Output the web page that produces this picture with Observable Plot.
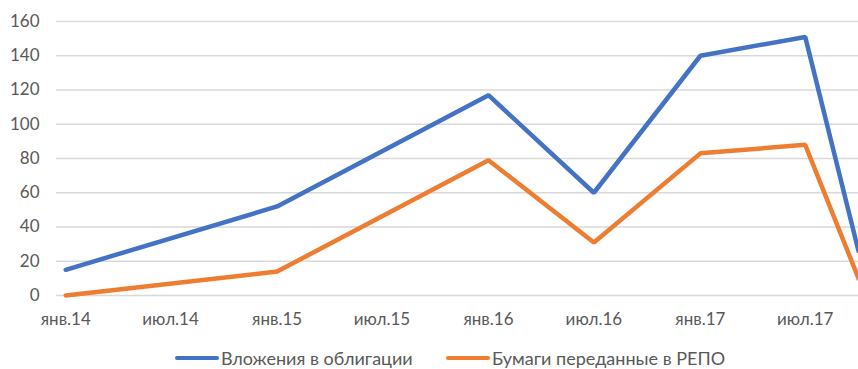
<!DOCTYPE html>
<html>
<head>
<meta charset="utf-8">
<script src="https://cdn.jsdelivr.net/npm/d3@7"></script>
<script src="https://cdn.jsdelivr.net/npm/@observablehq/plot@0.6"></script>
<style>
  html, body { margin: 0; padding: 0; background: #fff; }
  #wrap { position: relative; width: 858px; height: 369px; overflow: hidden; font-family: Lato, "Open Sans", sans-serif; }
  #chart svg { display: block; }
  .leg { position: absolute; top: 349px; display: flex; align-items: center; font-size: 18px; color: #595959; white-space: nowrap; line-height: 18px; }
  .sw { display: inline-block; width: 44px; height: 4px; border-radius: 2px; margin-right: 2px; }
</style>
</head>
<body>
<div id="wrap">
  <div id="chart"></div>
  <div class="leg" style="left:175px"><span class="sw" style="background:#4472C4"></span><span id="l1"></span></div>
  <div class="leg" style="left:446px"><span class="sw" style="background:#ED7D31"></span><span id="l2"></span></div>
</div>
<script>
// Data
const dates = ["2014-01-01", "2015-01-01", "2016-01-01", "2016-07-01", "2017-01-01", "2017-07-01", "2017-10-01"];
const bonds = [15, 52, 117, 60, 140, 151, 26];
const repo = [0, 14, 79, 31, 83, 88, 10];
const seriesNames = ["Вложения в облигации", "Бумаги переданные в РЕПО"];
const seriesColors = ["#4472C4", "#ED7D31"];
const xTickDates = ["2014-01-01", "2014-07-01", "2015-01-01", "2015-07-01", "2016-01-01", "2016-07-01", "2017-01-01", "2017-07-01"];
const xTickLabels = ["янв.14", "июл.14", "янв.15", "июл.15", "янв.16", "июл.16", "янв.17", "июл.17"];
const yTicks = [0, 20, 40, 60, 80, 100, 120, 140, 160];

const rows = [];
dates.forEach((d, i) => {
  rows.push({date: new Date(d), value: bonds[i], series: seriesNames[0]});
  rows.push({date: new Date(d), value: repo[i], series: seriesNames[1]});
});
const tickDates = xTickDates.map(d => new Date(d));
const labelMap = new Map(tickDates.map((d, i) => [+d, xTickLabels[i]]));

const chart = Plot.plot({
  width: 858,
  height: 340,
  marginLeft: 56,
  marginRight: 0,
  marginTop: 21,
  marginBottom: 45,
  style: {fontFamily: "Lato, 'Open Sans', sans-serif", fontSize: "17px", color: "#595959", background: "#fff"},
  x: {type: "utc", domain: [new Date("2013-12-16"), new Date("2017-10-01")]},
  y: {domain: [0, 160]},
  color: {domain: seriesNames, range: seriesColors},
  marks: [
    Plot.ruleY(yTicks, {stroke: "#d9d9d9", strokeWidth: 1.5}),
    Plot.axisY({ticks: yTicks, tickSize: 0, tickPadding: 17, label: null, fill: "#595959", fontSize: 17}),
    Plot.axisX({ticks: tickDates, tickSize: 0, tickPadding: 17, label: null, tickFormat: d => labelMap.get(+d), fill: "#595959", fontSize: 17}),
    Plot.line(rows, {x: "date", y: "value", z: "series", stroke: "series", strokeWidth: 4.5, strokeLinejoin: "miter", strokeLinecap: "round", clip: false})
  ]
});
document.getElementById("chart").appendChild(chart);
document.getElementById("l1").textContent = seriesNames[0];
document.getElementById("l2").textContent = seriesNames[1];
</script>
</body>
</html>
